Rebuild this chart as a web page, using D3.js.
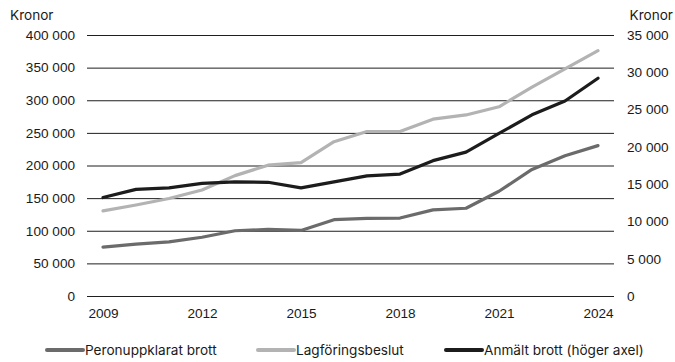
<!DOCTYPE html>
<html lang="sv">
<head>
<meta charset="utf-8">
<script src="https://cdn.jsdelivr.net/npm/d3@7"></script>
<style>
  html, body { margin: 0; padding: 0; background: #fff; }
  svg { display: block; font-family: Inter, "Noto Sans", sans-serif; }
</style>
</head>
<body>
<svg id="chart" width="675" height="362"></svg>
<script>
// Kostnad per brott, 2009–2024
const years = [2009, 2010, 2011, 2012, 2013, 2014, 2015, 2016, 2017, 2018, 2019, 2020, 2021, 2022, 2023, 2024];
const peronuppklarat = [75000, 79500, 83000, 90000, 100000, 102000, 100500, 117000, 119000, 119500, 132000, 134500, 160500, 194000, 215000, 230500];
const lagforingsbeslut = [130500, 139500, 149500, 162500, 184500, 200500, 204500, 236500, 252000, 252000, 271000, 277500, 290000, 320000, 348000, 376000];
const anmalt = [13200, 14300, 14500, 15100, 15300, 15250, 14500, 15300, 16100, 16350, 18150, 19300, 21800, 24300, 26150, 29200];

const xTicks = [2009, 2012, 2015, 2018, 2021, 2024];
const leftTicks = [0, 50000, 100000, 150000, 200000, 250000, 300000, 350000, 400000];
const rightTicks = [0, 5000, 10000, 15000, 20000, 25000, 30000, 35000];

const seriesNames = ["Peronuppklarat brott", "Lagföringsbeslut", "Anmält brott (höger axel)"];
const seriesColors = ["#6b6b6b", "#b3b3b3", "#1c1c1c"];

const svg = d3.select("#chart");
const plot = { left: 87, right: 614, top: 35, bottom: 296 };
const fontSize = "13.6px";

const x = d3.scaleLinear().domain([2009, 2024]).range([103, 598]);
const yLeft = d3.scaleLinear().domain([0, 400000]).range([plot.bottom, plot.top]);
const yRight = d3.scaleLinear().domain([0, 35000]).range([plot.bottom, plot.top]);

const sv = d3.formatLocale({ decimal: ",", thousands: " ", grouping: [3], currency: ["", " kr"] });
const fmt = sv.format(",d");

// Left axis with full-width gridlines
const gLeft = svg.append("g")
  .attr("transform", `translate(${plot.left},0)`)
  .call(d3.axisLeft(yLeft).tickValues(leftTicks).tickFormat(fmt)
    .tickSize(-(plot.right - plot.left)).tickPadding(12));
gLeft.select(".domain").remove();
gLeft.selectAll(".tick line").attr("stroke", "#1f1f1f").attr("stroke-width", 1);
gLeft.selectAll(".tick text").attr("fill", "#1a1a1a").style("font-size", fontSize);

// Right axis labels
const gRight = svg.append("g")
  .attr("transform", `translate(${plot.right},0)`)
  .call(d3.axisRight(yRight).tickValues(rightTicks).tickFormat(fmt)
    .tickSize(0).tickPadding(13));
gRight.select(".domain").remove();
gRight.selectAll(".tick text").attr("fill", "#1a1a1a").style("font-size", fontSize);

// Year axis
const gX = svg.append("g")
  .attr("transform", `translate(0,${plot.bottom})`)
  .call(d3.axisBottom(x).tickValues(xTicks).tickFormat(d3.format("d"))
    .tickSize(0).tickPadding(12));
gX.select(".domain").remove();
gX.selectAll(".tick text").attr("fill", "#1a1a1a").style("font-size", fontSize);

// Unit labels
svg.append("text").attr("x", 10).attr("y", 20)
  .attr("fill", "#1a1a1a").style("font-size", fontSize).text("Kronor");
svg.append("text").attr("x", 673).attr("y", 20).attr("text-anchor", "end")
  .attr("fill", "#1a1a1a").style("font-size", fontSize).text("Kronor");

// Lines
const lineLeft = d3.line().x((d, i) => x(years[i])).y(d => yLeft(d));
const lineRight = d3.line().x((d, i) => x(years[i])).y(d => yRight(d));

const lines = [
  { values: peronuppklarat, gen: lineLeft, color: seriesColors[0] },
  { values: lagforingsbeslut, gen: lineLeft, color: seriesColors[1] },
  { values: anmalt, gen: lineRight, color: seriesColors[2] }
];
svg.append("g").selectAll("path").data(lines).join("path")
  .attr("d", d => d.gen(d.values))
  .attr("fill", "none")
  .attr("stroke", d => d.color)
  .attr("stroke-width", 3.2)
  .attr("stroke-linejoin", "round")
  .attr("stroke-linecap", "round");

// Legend
const legendX = [47, 258, 446];
const legend = svg.append("g").selectAll("g").data(seriesNames).join("g")
  .attr("transform", (d, i) => `translate(${legendX[i]},350)`);
legend.append("line")
  .attr("x1", 0).attr("x2", 36).attr("y1", 0).attr("y2", 0)
  .attr("stroke", (d, i) => seriesColors[i]).attr("stroke-width", 4)
  .attr("stroke-linecap", "round");
legend.append("text")
  .attr("x", 38).attr("y", 0).attr("dy", "0.35em")
  .attr("fill", "#1a1a1a").style("font-size", fontSize)
  .text(d => d);
</script>
</body>
</html>
